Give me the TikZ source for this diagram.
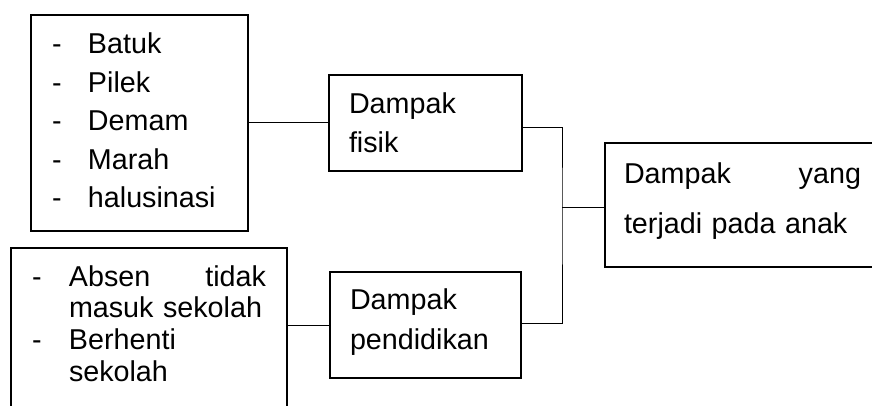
\documentclass[tikz,border=0pt]{standalone}
\usepackage{fontspec}
\setmainfont{Liberation Sans}
\newcommand{\dashitem}[2][36pt]{\makebox[#1][l]{-}#2}
\begin{document}
\begin{tikzpicture}[x=1pt,y=-1pt,
  box/.style={draw, line width=2pt, anchor=north west, align=left,
    inner ysep=0pt, inner xsep=21pt, font=\fontsize{28.7}{#1}\selectfont},
  link/.style={line width=1pt}]
\useasboundingbox (0,0) rectangle (872,406);
\clip (0,0) rectangle (872,406);
% kotak kiri
\node[box=38.5, text width=175pt, text height=39pt, text depth=177pt] (gejala) at (30,14)
  {\dashitem{Batuk}\\\dashitem{Pilek}\\\dashitem{Demam}\\\dashitem{Marah}\\\dashitem{halusinasi}};
\node[box=31.7, text width=234pt, text height=38pt, text depth=180pt] (sekolah) at (10,247)
  {\dashitem[37pt]{Absen\hfill tidak}\\\hspace*{37pt}masuk sekolah\\\dashitem[37pt]{Berhenti}\\\hspace*{37pt}sekolah};
% kotak tengah
\node[box=39, inner xsep=20pt, text width=153pt, text height=39pt, text depth=57pt] (fisik) at (328,74)
  {Dampak\\fisik};
\node[box=40, inner xsep=20pt, text width=151pt, text height=37pt, text depth=69pt] (pendidikan) at (329,271)
  {Dampak\\pendidikan};
% kotak kanan
\node[box=50, inner xsep=19pt, text width=237pt, text height=40pt, text depth=84pt] (anak) at (604,142)
  {Dampak\hfill yang\\terjadi pada anak};
\coordinate (bus) at (562,207);
\draw[link] (gejala) -- (fisik);
\draw[link] (pendidikan.west) -- (pendidikan.west -| sekolah.east);
\draw[link] ([yshift=-5pt]fisik.east) -| (bus) |- ([yshift=2pt]pendidikan.east);
\draw[link] (bus) -- (bus -| anak.west);
\end{tikzpicture}
\end{document}
